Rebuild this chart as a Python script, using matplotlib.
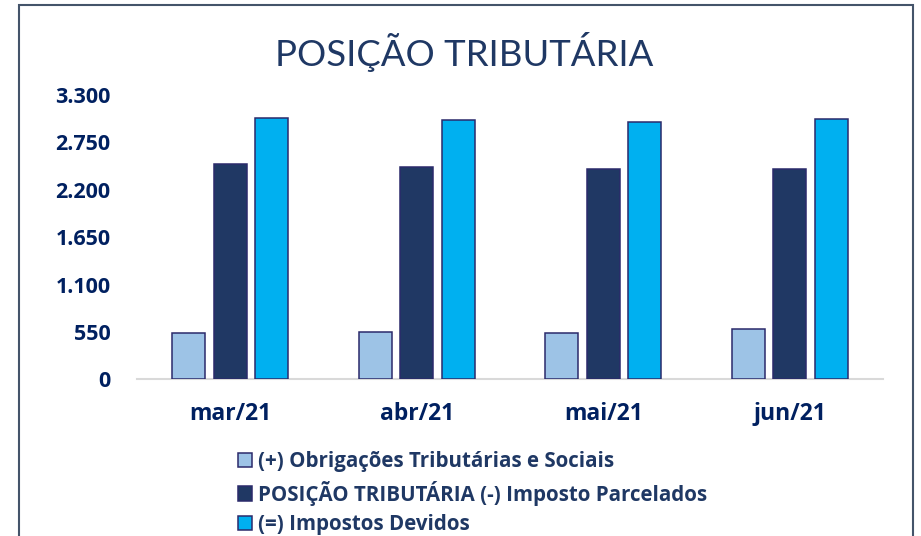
import numpy as np
import matplotlib.pyplot as plt
from matplotlib.patches import Rectangle

# data
months = ['mar/21', 'abr/21', 'mai/21', 'jun/21']
obrigacoes = [533, 544, 540, 580]
parcelados = [2501, 2470, 2443, 2441]
devidos = [3034, 3014, 2991, 3019]
labels = ['(+) Obrigações Tributárias e Sociais',
          'POSIÇÃO TRIBUTÁRIA (-) Imposto Parcelados',
          '(=) Impostos Devidos']
yticks = [0, 550, 1100, 1650, 2200, 2750, 3300]
ytick_labels = ['0', '550', '1.100', '1.650', '2.200', '2.750', '3.300']

colors = ['#9DC3E6', '#203864', '#00B0F0']
edge = '#2B2A6B'
navy = '#1F3864'
plt.rcParams['font.family'] = ['Open Sans', 'DejaVu Sans']

fig = plt.figure(figsize=(9.21, 5.36), dpi=100)
ax = fig.add_axes([137/921, 1-379.3/536, (883-137)/921, (379.3-95)/536])

x = np.arange(len(months))
w = 0.177
off = 0.2225
series = [obrigacoes, parcelados, devidos]
for i, vals in enumerate(series):
    ax.bar(x + (i-1)*off, vals, width=w, color=colors[i], edgecolor=edge,
           linewidth=1.1, label=labels[i], zorder=3)

ax.set_xlim(-0.5, len(months)-0.5)
ax.set_ylim(0, 3300)
ax.set_yticks(yticks)
ax.set_yticklabels(ytick_labels)
ax.set_xticks(x)
ax.set_xticklabels(months)
for s in ['top', 'right', 'left']:
    ax.spines[s].set_visible(False)
ax.spines['bottom'].set_color('#D9D9D9')
ax.spines['bottom'].set_linewidth(1.5)
ax.tick_params(axis='both', length=0, labelcolor='#002060')
ax.tick_params(axis='y', pad=19, labelsize=15.5)
ax.tick_params(axis='x', pad=16, labelsize=16.5)
for t in ax.get_xticklabels() + ax.get_yticklabels():
    t.set_fontweight('bold')

fig.text(0.504, 1-52/536, 'POSIÇÃO TRIBUTÁRIA', ha='center', va='center',
         fontsize=26.3, color=navy, family=['Lato', 'DejaVu Sans'])

leg = fig.legend(loc='upper left', bbox_to_anchor=(238/921, 1-451/536),
                 frameon=False, prop={'weight': 'bold', 'size': 14.8},
                 handlelength=0.7, handleheight=0.7, handletextpad=0.25,
                 labelspacing=0.42, borderpad=0, borderaxespad=0)
for t in leg.get_texts():
    t.set_color(navy)

# outer frame
fig.patches.append(Rectangle((19/921, -0.1), (913-19)/921, 1.1-5/536,
                             transform=fig.transFigure, fill=False,
                             edgecolor='#44546A', linewidth=1.5))

fig.savefig('out.png', dpi=100)
